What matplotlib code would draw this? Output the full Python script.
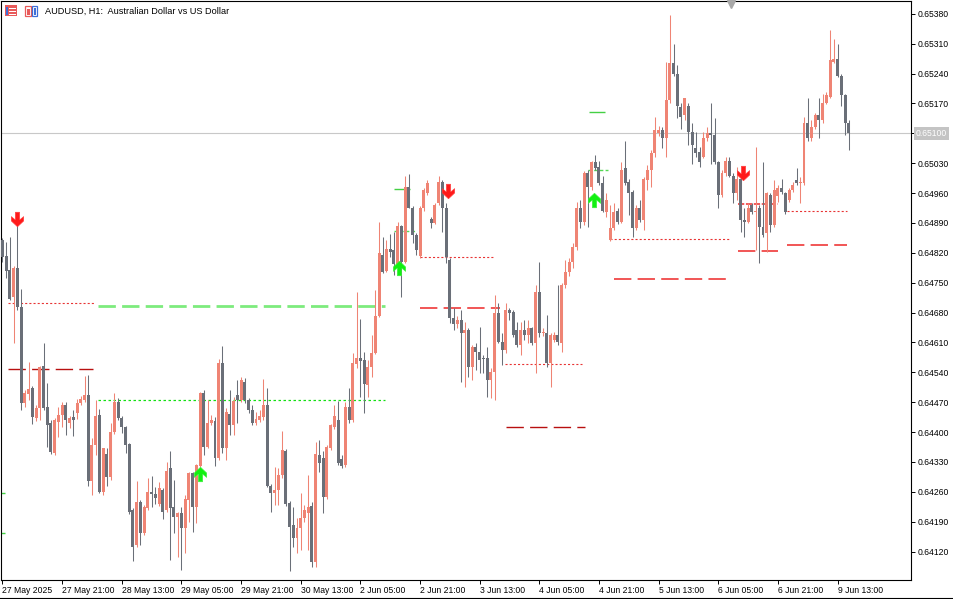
import numpy as np
import pandas as pd
import matplotlib
matplotlib.use("Agg")
import matplotlib.pyplot as plt
from matplotlib.path import Path
from matplotlib.patches import Rectangle
from matplotlib.lines import Line2D
from matplotlib.transforms import IdentityTransform, blended_transform_factory

plt.rcParams["font.family"] = ["Liberation Sans", "DejaVu Sans"]
plt.rcParams["lines.scale_dashes"] = False

# AUDUSD H1 bars, 27 May 2025 05:00 -> 9 Jun 2025 16:00
opens = [
    0.64849, 0.64812, 0.64779, 0.64716, 0.64784, 0.64692, 0.64468, 0.64489, 0.64503, 0.64432,
    0.64456, 0.64554, 0.64458, 0.64421, 0.64350, 0.64423, 0.64440, 0.64463, 0.64421, 0.64435,
    0.64444, 0.64468, 0.64475, 0.64486, 0.64285, 0.64369, 0.64440, 0.64259, 0.64348, 0.64294,
    0.64400, 0.64470, 0.64432, 0.64411, 0.64372, 0.64217, 0.64135, 0.64236, 0.64163, 0.64222,
    0.64259, 0.64254, 0.64231, 0.64264, 0.64217, 0.64315, 0.64224, 0.64201, 0.64210, 0.64175,
    0.64241, 0.64304, 0.64224, 0.64320, 0.64491, 0.64365, 0.64421, 0.64425, 0.64339, 0.64561,
    0.64362, 0.64442, 0.64416, 0.64486, 0.64475, 0.64517, 0.64475, 0.64451, 0.64421, 0.64428,
    0.64435, 0.64463, 0.64273, 0.64257, 0.64264, 0.64299, 0.64355, 0.64234, 0.64182, 0.64152,
    0.64175, 0.64198, 0.64210, 0.64227, 0.64095, 0.64346, 0.64339, 0.64248, 0.64362, 0.64411,
    0.64428, 0.64337, 0.64322, 0.64458, 0.64428, 0.64559, 0.64573, 0.64568, 0.64510, 0.64552,
    0.64585, 0.64671, 0.64814, 0.64777, 0.64828, 0.64826, 0.64793, 0.64882, 0.64798, 0.64973,
    0.64926, 0.64861, 0.64812, 0.64924, 0.64959, 0.64898, 0.64889, 0.64936, 0.64985, 0.64926,
    0.64802, 0.64667, 0.64653, 0.64662, 0.64631, 0.64639, 0.64552, 0.64599, 0.64587, 0.64573,
    0.64573, 0.64521, 0.64540, 0.64678, 0.64610, 0.64592, 0.64685, 0.64681, 0.64639, 0.64603,
    0.64639, 0.64627, 0.64643, 0.64608, 0.64727, 0.64631, 0.64631, 0.64561, 0.64615, 0.64627,
    0.64608, 0.64744, 0.64774, 0.64798, 0.64833, 0.64926, 0.64891, 0.65006, 0.64973, 0.65032,
    0.65020, 0.64983, 0.64915, 0.64849, 0.64877, 0.64919, 0.64891, 0.65018, 0.64985, 0.64962,
    0.64877, 0.64926, 0.64896, 0.64990, 0.65013, 0.65053, 0.65100, 0.65107, 0.65088, 0.65177,
    0.65264, 0.65240, 0.65161, 0.65142, 0.65165, 0.65102, 0.65065, 0.65055, 0.65044, 0.65088,
    0.65100, 0.65097, 0.65032, 0.64955, 0.65006, 0.65036, 0.65001, 0.64959, 0.64994, 0.64896,
    0.64891, 0.64931, 0.64915, 0.64926, 0.64880, 0.64866, 0.64955, 0.64884, 0.64952, 0.64971,
    0.64959, 0.64943, 0.64966, 0.64990, 0.64983, 0.64983, 0.65125, 0.65090, 0.65114, 0.65142,
    0.65130, 0.65172, 0.65184, 0.65266, 0.65275, 0.65235, 0.65189, 0.65125,
]
highs = [
    0.64854, 0.64845, 0.64858, 0.64788, 0.64884, 0.64734, 0.64498, 0.64564, 0.64507, 0.64463,
    0.64554, 0.64608, 0.64514, 0.64428, 0.64432, 0.64458, 0.64470, 0.64470, 0.64437, 0.64451,
    0.64477, 0.64484, 0.64531, 0.64533, 0.64386, 0.64475, 0.64454, 0.64362, 0.64362, 0.64421,
    0.64491, 0.64479, 0.64437, 0.64414, 0.64374, 0.64222, 0.64285, 0.64241, 0.64229, 0.64292,
    0.64297, 0.64271, 0.64283, 0.64269, 0.64330, 0.64355, 0.64287, 0.64212, 0.64224, 0.64252,
    0.64306, 0.64306, 0.64325, 0.64493, 0.64498, 0.64475, 0.64440, 0.64435, 0.64571, 0.64601,
    0.64456, 0.64498, 0.64482, 0.64521, 0.64528, 0.64526, 0.64479, 0.64463, 0.64447, 0.64451,
    0.64524, 0.64503, 0.64278, 0.64318, 0.64315, 0.64402, 0.64360, 0.64238, 0.64224, 0.64198,
    0.64257, 0.64229, 0.64299, 0.64236, 0.64376, 0.64381, 0.64355, 0.64369, 0.64418, 0.64463,
    0.64472, 0.64346, 0.64470, 0.64503, 0.64585, 0.64727, 0.64664, 0.64587, 0.64568, 0.64627,
    0.64732, 0.64891, 0.64856, 0.64849, 0.64863, 0.64868, 0.64891, 0.64884, 0.65001, 0.65004,
    0.64929, 0.64866, 0.64929, 0.64971, 0.64990, 0.64903, 0.64936, 0.64999, 0.64990, 0.64936,
    0.64807, 0.64690, 0.64671, 0.64685, 0.64657, 0.64643, 0.64603, 0.64608, 0.64646, 0.64580,
    0.64599, 0.64550, 0.64720, 0.64702, 0.64631, 0.64702, 0.64690, 0.64685, 0.64657, 0.64657,
    0.64662, 0.64662, 0.64646, 0.64744, 0.64798, 0.64643, 0.64674, 0.64631, 0.64634, 0.64744,
    0.64749, 0.64802, 0.64807, 0.64842, 0.64938, 0.64943, 0.65011, 0.65013, 0.65036, 0.65048,
    0.65036, 0.65001, 0.64959, 0.64931, 0.64936, 0.64924, 0.65032, 0.65083, 0.64994, 0.64966,
    0.64931, 0.64943, 0.64997, 0.65025, 0.65060, 0.65137, 0.65118, 0.65114, 0.65266, 0.65378,
    0.65310, 0.65259, 0.65170, 0.65182, 0.65170, 0.65125, 0.65102, 0.65067, 0.65102, 0.65114,
    0.65170, 0.65135, 0.65036, 0.65013, 0.65044, 0.65044, 0.65006, 0.65020, 0.64997, 0.64926,
    0.64936, 0.64936, 0.65067, 0.64931, 0.65032, 0.64962, 0.64959, 0.64990, 0.64978, 0.64994,
    0.64962, 0.64971, 0.64985, 0.65018, 0.64997, 0.65137, 0.65182, 0.65130, 0.65147, 0.65182,
    0.65193, 0.65196, 0.65341, 0.65322, 0.65310, 0.65240, 0.65193, 0.65130,
]
lows = [
    0.64798, 0.64760, 0.64709, 0.64608, 0.64685, 0.64451, 0.64458, 0.64475, 0.64418, 0.64425,
    0.64428, 0.64451, 0.64365, 0.64348, 0.64346, 0.64388, 0.64411, 0.64393, 0.64409, 0.64390,
    0.64430, 0.64463, 0.64470, 0.64273, 0.64252, 0.64346, 0.64257, 0.64252, 0.64273, 0.64287,
    0.64395, 0.64428, 0.64397, 0.64350, 0.64208, 0.64098, 0.64131, 0.64135, 0.64159, 0.64217,
    0.64224, 0.64231, 0.64227, 0.64196, 0.64212, 0.64100, 0.64163, 0.64107, 0.64077, 0.64116,
    0.64189, 0.64166, 0.64187, 0.64318, 0.64346, 0.64362, 0.64416, 0.64320, 0.64334, 0.64350,
    0.64334, 0.64393, 0.64393, 0.64421, 0.64470, 0.64468, 0.64444, 0.64416, 0.64416, 0.64423,
    0.64428, 0.64271, 0.64212, 0.64229, 0.64229, 0.64292, 0.64227, 0.64074, 0.64131, 0.64116,
    0.64123, 0.64189, 0.64123, 0.64084, 0.64084, 0.64306, 0.64210, 0.64243, 0.64358, 0.64407,
    0.64322, 0.64315, 0.64318, 0.64421, 0.64423, 0.64550, 0.64482, 0.64444, 0.64482, 0.64528,
    0.64582, 0.64669, 0.64772, 0.64774, 0.64809, 0.64767, 0.64791, 0.64716, 0.64795, 0.64924,
    0.64842, 0.64814, 0.64807, 0.64919, 0.64955, 0.64877, 0.64887, 0.64931, 0.64868, 0.64795,
    0.64655, 0.64639, 0.64643, 0.64517, 0.64505, 0.64528, 0.64521, 0.64545, 0.64538, 0.64538,
    0.64482, 0.64479, 0.64475, 0.64608, 0.64557, 0.64585, 0.64662, 0.64622, 0.64599, 0.64580,
    0.64615, 0.64608, 0.64603, 0.64538, 0.64622, 0.64624, 0.64552, 0.64505, 0.64610, 0.64603,
    0.64587, 0.64737, 0.64765, 0.64784, 0.64826, 0.64877, 0.64884, 0.64880, 0.64966, 0.65013,
    0.64978, 0.64915, 0.64903, 0.64847, 0.64873, 0.64887, 0.64889, 0.64978, 0.64908, 0.64856,
    0.64873, 0.64891, 0.64873, 0.64966, 0.64973, 0.65044, 0.65093, 0.65065, 0.65044, 0.65172,
    0.65235, 0.65135, 0.65111, 0.65130, 0.65072, 0.65029, 0.65044, 0.65020, 0.65041, 0.65083,
    0.65029, 0.65029, 0.64924, 0.64950, 0.65001, 0.64997, 0.64936, 0.64943, 0.64868, 0.64856,
    0.64889, 0.64912, 0.64826, 0.64795, 0.64856, 0.64821, 0.64868, 0.64880, 0.64938, 0.64957,
    0.64912, 0.64938, 0.64962, 0.64978, 0.64936, 0.64978, 0.65083, 0.65083, 0.65111, 0.65090,
    0.65125, 0.65168, 0.65182, 0.65264, 0.65231, 0.65165, 0.65095, 0.65060,
]
closes = [
    0.64809, 0.64777, 0.64711, 0.64784, 0.64692, 0.64468, 0.64491, 0.64500, 0.64435, 0.64456,
    0.64552, 0.64456, 0.64416, 0.64353, 0.64428, 0.64440, 0.64463, 0.64428, 0.64432, 0.64428,
    0.64468, 0.64477, 0.64486, 0.64285, 0.64369, 0.64437, 0.64259, 0.64362, 0.64294, 0.64400,
    0.64470, 0.64432, 0.64411, 0.64369, 0.64212, 0.64131, 0.64236, 0.64163, 0.64224, 0.64259,
    0.64254, 0.64245, 0.64269, 0.64212, 0.64308, 0.64222, 0.64201, 0.64210, 0.64175, 0.64243,
    0.64304, 0.64224, 0.64322, 0.64491, 0.64365, 0.64421, 0.64428, 0.64339, 0.64561, 0.64362,
    0.64447, 0.64416, 0.64472, 0.64475, 0.64521, 0.64475, 0.64451, 0.64421, 0.64430, 0.64437,
    0.64463, 0.64273, 0.64257, 0.64264, 0.64299, 0.64358, 0.64231, 0.64177, 0.64152, 0.64175,
    0.64198, 0.64217, 0.64224, 0.64095, 0.64348, 0.64327, 0.64248, 0.64365, 0.64416, 0.64437,
    0.64327, 0.64320, 0.64458, 0.64428, 0.64561, 0.64573, 0.64566, 0.64512, 0.64552, 0.64585,
    0.64671, 0.64819, 0.64774, 0.64828, 0.64821, 0.64793, 0.64882, 0.64798, 0.64973, 0.64926,
    0.64861, 0.64826, 0.64926, 0.64966, 0.64983, 0.64889, 0.64933, 0.64985, 0.64926, 0.64809,
    0.64667, 0.64653, 0.64662, 0.64631, 0.64639, 0.64552, 0.64599, 0.64587, 0.64568, 0.64571,
    0.64521, 0.64540, 0.64678, 0.64610, 0.64592, 0.64685, 0.64678, 0.64627, 0.64603, 0.64639,
    0.64627, 0.64643, 0.64608, 0.64727, 0.64631, 0.64634, 0.64561, 0.64627, 0.64627, 0.64610,
    0.64744, 0.64774, 0.64798, 0.64833, 0.64926, 0.64891, 0.65006, 0.64973, 0.65032, 0.65018,
    0.64983, 0.64919, 0.64943, 0.64877, 0.64915, 0.64891, 0.65013, 0.64983, 0.64959, 0.64877,
    0.64926, 0.64896, 0.64994, 0.65013, 0.65053, 0.65107, 0.65107, 0.65088, 0.65179, 0.65264,
    0.65240, 0.65165, 0.65137, 0.65182, 0.65102, 0.65072, 0.65053, 0.65032, 0.65088, 0.65100,
    0.65097, 0.65032, 0.64955, 0.65006, 0.65036, 0.65001, 0.64959, 0.64994, 0.64896, 0.64891,
    0.64926, 0.64915, 0.64919, 0.64880, 0.64861, 0.64959, 0.64884, 0.64966, 0.64971, 0.64962,
    0.64915, 0.64966, 0.64978, 0.64983, 0.64985, 0.65125, 0.65088, 0.65114, 0.65142, 0.65130,
    0.65172, 0.65189, 0.65271, 0.65273, 0.65235, 0.65189, 0.65123, 0.65100,
]
current_price = 0.65100

# indicator levels (price, first bar, last bar, kind)
level_price = [0.64702, 0.64695, 0.64547, 0.64475, 0.64969, 0.64870, 0.64809, 0.64690,
               0.64559, 0.64411, 0.65151, 0.65015, 0.64852, 0.64758, 0.64934, 0.64824,
               0.64917, 0.64838, 0.64257, 0.64163]
level_start = [1.6, 25.7, 1.6, 25.5, 105.0, 105.0, 112.0, 112.0,
               134.9, 135.0, 157.4, 157.0, 163.0, 164.0, 197.3, 197.3,
               210.5, 210.5, -0.6, -0.6]
level_end = [24.9, 102.7, 24.4, 102.7, 109.4, 110.7, 132.0, 133.5,
             155.5, 156.3, 161.7, 162.5, 195.2, 195.2, 208.0, 208.0,
             226.5, 226.5, 0.6, 0.6]
level_kind = ["red_dot", "green_dash", "dark_dash", "green_dot", "green_solid", "green_short",
              "red_dot", "red_dash", "red_dot", "dark_dash", "green_solid", "green_short",
              "red_dot", "red_dash", "red_short", "red_dash", "red_dot", "red_dash",
              "green_solid", "green_solid"]

# signal arrows (bar position, price)
sell_pos = [3.8, 119.6, 198.7]
sell_price = [0.64898, 0.64964, 0.65008]
buy_pos = [53.1, 106.4, 158.7]
buy_price = [0.64301, 0.64784, 0.64943]

tick_times = ["2025-05-27 05:00", "2025-05-27 21:00", "2025-05-28 13:00", "2025-05-29 05:00",
              "2025-05-29 21:00", "2025-05-30 13:00", "2025-06-02 05:00", "2025-06-02 21:00",
              "2025-06-03 13:00", "2025-06-04 05:00", "2025-06-04 21:00", "2025-06-05 13:00",
              "2025-06-06 05:00", "2025-06-06 21:00", "2025-06-09 13:00"]
tick_labels = ["27 May 2025", "27 May 21:00", "28 May 13:00", "29 May 05:00", "29 May 21:00",
               "30 May 13:00", "2 Jun 05:00", "2 Jun 21:00", "3 Jun 13:00", "4 Jun 05:00",
               "4 Jun 21:00", "5 Jun 13:00", "6 Jun 05:00", "6 Jun 21:00", "9 Jun 13:00"]

# trading hours (no weekend bars)
times = pd.DatetimeIndex(
    list(pd.date_range("2025-05-27 05:00", "2025-05-30 23:00", freq="h"))
    + list(pd.date_range("2025-06-02 00:00", "2025-06-06 23:00", freq="h"))
    + list(pd.date_range("2025-06-09 00:00", "2025-06-09 16:00", freq="h"))
)

BULL = "#EF8474"
BEAR = "#6A6F78"
W, H = 954, 599

styles = {
    "red_dot": dict(color="#E83434", lw=0.8, ls=(0, (1.5, 1.5))),
    "red_dash": dict(color="#F04848", lw=1.3, ls=(0, (12.5, 4.5))),
    "dark_dash": dict(color="#B81010", lw=1.0, ls=(0, (12.5, 4.5))),
    "green_dash": dict(color="#7DEB7D", lw=2.0, ls=(0, (12.5, 4.5))),
    "green_dot": dict(color="#12E012", lw=0.9, ls=(0, (1.8, 1.8))),
    "green_solid": dict(color="#44D044", lw=1.0, ls="-"),
    "green_short": dict(color="#55D855", lw=1.0, ls=(0, (2.5, 1.6))),
    "red_short": dict(color="#F04040", lw=1.2, ls=(0, (4.5, 1.2))),
}

fig = plt.figure(figsize=(W / 100, H / 100), dpi=100)
ax = fig.add_axes([0.5 / W, (H - 580) / H, 910.5 / W, 579.5 / H])

o = np.array(opens)
hi = np.array(highs)
lo = np.array(lows)
c = np.array(closes)
x = np.arange(len(c))
up = c >= o

ax.axhline(current_price, color="#C8C8C8", lw=0.8, zorder=1)

for s, e, p, k in zip(level_start, level_end, level_price, level_kind):
    st = styles[k]
    ax.plot([s, e], [p, p], color=st["color"], lw=st["lw"], linestyle=st["ls"],
            solid_capstyle="butt", dash_capstyle="butt", zorder=2)

ax.vlines(x[up], lo[up], hi[up], color=BULL, lw=0.75, zorder=3)
ax.vlines(x[~up], lo[~up], hi[~up], color=BEAR, lw=0.75, zorder=3)
bottom = np.minimum(o, c)
height = np.maximum(np.abs(c - o), 0.00002)
ax.bar(x[up], height[up], bottom=bottom[up], width=0.8, color=BULL, linewidth=0, zorder=4)
ax.bar(x[~up], height[~up], bottom=bottom[~up], width=0.8, color=BEAR, linewidth=0, zorder=4)

# arrow glyphs
down_verts = [(-0.3, 1), (0.3, 1), (0.3, -0.05), (0.85, 0.4), (0.85, -0.2), (0, -1),
              (-0.85, -0.2), (-0.85, 0.4), (-0.3, -0.05), (-0.3, 1)]
down_arrow = Path(down_verts, closed=True)
up_arrow = Path([(vx, -vy) for vx, vy in down_verts], closed=True)
ax.plot(sell_pos, sell_price, ls="none", marker=down_arrow, ms=10.5, color="#FF1A1A",
        mec="#FF4040", mew=0.4, zorder=6)
ax.plot(buy_pos, buy_price, ls="none", marker=up_arrow, ms=10.5, color="#12F012",
        mec="#40F040", mew=0.4, zorder=6)

ax.set_xlim(-0.536, 243.7)
ax.set_ylim(0.640533, 0.654111)

# chart shift marker
bt = blended_transform_factory(ax.transData, ax.transAxes)
ax.plot([195.4], [0.994], marker="v", ms=5.5, color="#A8A8A8", transform=bt, clip_on=False, zorder=7)

ax.yaxis.tick_right()
yt = np.round(np.arange(0.64120, 0.653801, 0.0007), 5)
ax.set_yticks(yt)
ax.set_yticklabels([f"{v:.5f}" for v in yt])
tick_idx = [times.get_loc(pd.Timestamp(t)) for t in tick_times]
ax.set_xticks(tick_idx)
ax.set_xticklabels(tick_labels, ha="left")
ax.tick_params(axis="both", direction="out", length=3, width=0.7, labelsize=6.2,
               colors="black")
ax.tick_params(axis="y", pad=1.5)
ax.tick_params(axis="x", pad=1.5)
for sp in ax.spines.values():
    sp.set_color("black")
    sp.set_linewidth(0.8)

ax.annotate(f"{current_price:.5f}", xy=(1.0, current_price),
            xycoords=("axes fraction", "data"), xytext=(3.5, 0), textcoords="offset points",
            va="center", ha="left", fontsize=6.2, color="white", zorder=10,
            bbox=dict(boxstyle="square,pad=0.25", fc="#C4C4C4", ec="none"), annotation_clip=False)

# title and icons
fig.text(45 / W, 1 - 11.5 / H, "AUDUSD, H1:  Australian Dollar vs US Dollar",
         ha="left", va="center", fontsize=6.6, color="black")
ident = IdentityTransform()


def px_rect(x0, y0, w, h, **kw):
    fig.add_artist(Rectangle((x0, H - y0 - h), w, h, transform=ident, **kw))


px_rect(5, 5, 12, 11, fc="#E85A5A", ec="none")
for yy in (7.5, 10.5, 13.5):
    px_rect(9, yy, 7, 1, fc="white", ec="none")
px_rect(6, 7, 2, 8, fc="#3E6FD8", ec="none")
px_rect(25, 6, 6, 10, fc="none", ec="#E85A5A", lw=0.9)
px_rect(26.5, 9, 3, 6, fc="#E85A5A", ec="none")
px_rect(32, 6, 5, 10, fc="none", ec="#3E6FD8", lw=0.9)
px_rect(33.5, 8, 2, 7, fc="#3E6FD8", ec="none")

fig.add_artist(Line2D([0, W], [1, 1], transform=ident, color="black", lw=0.8))

fig.savefig("out.png", dpi=100)
